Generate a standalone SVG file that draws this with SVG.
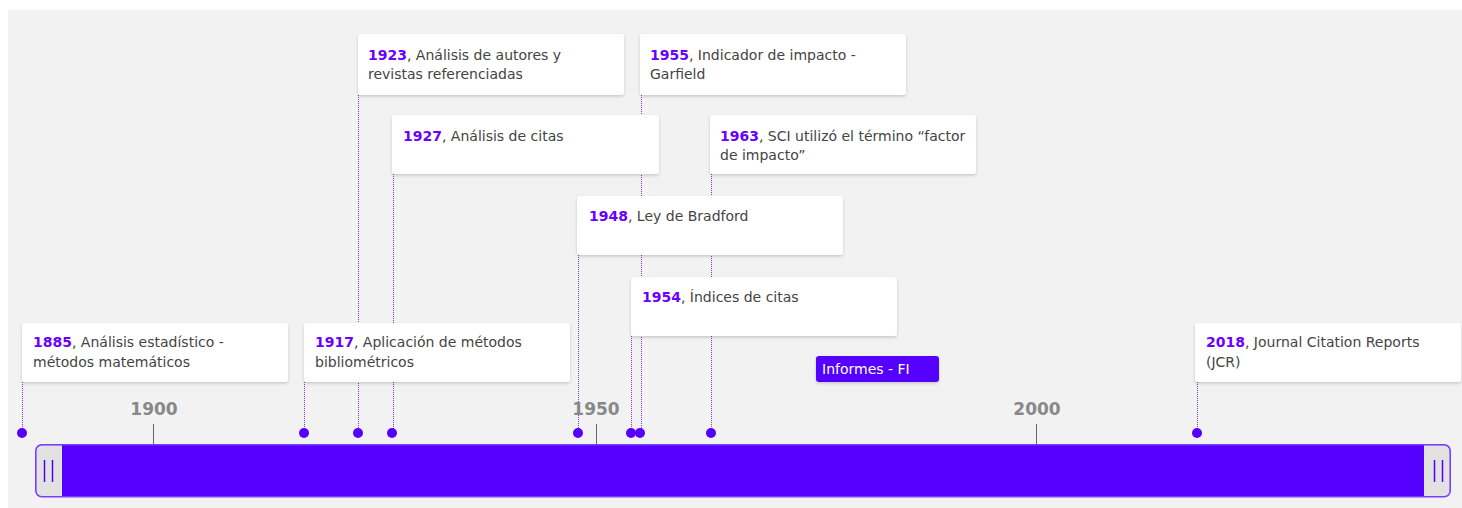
<svg xmlns="http://www.w3.org/2000/svg" width="1462" height="508" viewBox="0 0 1462 508">
<defs>
<filter id="sh" x="-10%" y="-20%" width="120%" height="150%">
<feDropShadow dx="0" dy="1.5" stdDeviation="1.5" flood-color="#000" flood-opacity="0.18"/>
</filter>
<style>
.card{fill:#fff;filter:url(#sh)}
.t{font-family:"DejaVu Sans",Verdana,sans-serif;font-size:14px;fill:#444}
.y{font-weight:bold;fill:#6a00ff}
.lead{stroke:#7a33ff;stroke-width:1;stroke-dasharray:1 1;fill:none}
.dot{fill:#5500ff}
.tick{stroke:#666;stroke-width:1}
.tl{font-family:"DejaVu Sans",Verdana,sans-serif;font-size:17px;font-weight:bold;fill:#888;text-anchor:middle}
.hl{stroke:#5500ff;stroke-width:1.5}
</style>
</defs>
<rect x="8" y="10" width="1454" height="498" fill="#f2f2f2"/>

<g id="connectors">
<line class="lead" x1="22.5" y1="382" x2="22.5" y2="433"/>
<line class="lead" x1="304.5" y1="382" x2="304.5" y2="433"/>
<line class="lead" x1="358.5" y1="95" x2="358.5" y2="433"/>
<line class="lead" x1="393.5" y1="174" x2="393.5" y2="433"/>
<line class="lead" x1="578.5" y1="255" x2="578.5" y2="433"/>
<line class="lead" x1="631.5" y1="336" x2="631.5" y2="433"/>
<line class="lead" x1="641.5" y1="95" x2="641.5" y2="433"/>
<line class="lead" x1="711.5" y1="174" x2="711.5" y2="433"/>
<line class="lead" x1="1197.5" y1="382" x2="1197.5" y2="433"/>
<circle class="dot" cx="22" cy="433" r="5"/>
<circle class="dot" cx="304" cy="433" r="5"/>
<circle class="dot" cx="358" cy="433" r="5"/>
<circle class="dot" cx="392" cy="433" r="5"/>
<circle class="dot" cx="578" cy="433" r="5"/>
<circle class="dot" cx="631" cy="433" r="5"/>
<circle class="dot" cx="640" cy="433" r="5"/>
<circle class="dot" cx="711" cy="433" r="5"/>
<circle class="dot" cx="1197" cy="433" r="5"/>
</g>

<g id="axis">
<line class="tick" x1="153.5" y1="424" x2="153.5" y2="444"/>
<line class="tick" x1="596.5" y1="424" x2="596.5" y2="444"/>
<line class="tick" x1="1036.5" y1="424" x2="1036.5" y2="444"/>
<text class="tl" x="154" y="415">1900</text>
<text class="tl" x="596" y="415">1950</text>
<text class="tl" x="1037" y="415">2000</text>
</g>

<g id="bar">
<rect x="35.75" y="444.75" width="1414.5" height="52" rx="6" fill="#5500ff" stroke="#7a3dff" stroke-width="1.5"/>
<path d="M36.5 451 a5.5 5.5 0 0 1 5.5 -5.5 H62 V496 H42 a5.5 5.5 0 0 1 -5.5 -5.5 Z" fill="#e2e2e2"/>
<path d="M1424 445.5 H1444 a5.5 5.5 0 0 1 5.5 5.5 V490.5 a5.5 5.5 0 0 1 -5.5 5.5 H1424 Z" fill="#e2e2e2"/>
<line class="hl" x1="44.5" y1="460" x2="44.5" y2="482"/>
<line class="hl" x1="52.5" y1="460" x2="52.5" y2="482"/>
<line class="hl" x1="1434.5" y1="460" x2="1434.5" y2="482"/>
<line class="hl" x1="1442.5" y1="460" x2="1442.5" y2="482"/>
</g>

<g id="n1885">
<rect class="card" x="22" y="323" width="266" height="59" rx="3"/>
<text class="t" x="33" y="347"><tspan class="y">1885</tspan>, Análisis estadístico -</text>
<text class="t" x="33" y="367">métodos matemáticos</text>
</g>
<g id="n1917">
<rect class="card" x="304" y="323" width="266" height="59" rx="3"/>
<text class="t" x="315" y="347"><tspan class="y">1917</tspan>, Aplicación de métodos</text>
<text class="t" x="315" y="367">bibliométricos</text>
</g>
<g id="n1923">
<rect class="card" x="358" y="34" width="266" height="61" rx="3"/>
<text class="t" x="368" y="60"><tspan class="y">1923</tspan>, Análisis de autores y</text>
<text class="t" x="368" y="79">revistas referenciadas</text>
</g>
<g id="n1927">
<rect class="card" x="392" y="115" width="267" height="59" rx="3"/>
<text class="t" x="403" y="141"><tspan class="y">1927</tspan>, Análisis de citas</text>
</g>
<g id="n1948">
<rect class="card" x="577" y="196" width="266" height="59" rx="3"/>
<text class="t" x="589" y="221"><tspan class="y">1948</tspan>, Ley de Bradford</text>
</g>
<g id="n1954">
<rect class="card" x="631" y="277" width="266" height="59" rx="3"/>
<text class="t" x="642" y="302"><tspan class="y">1954</tspan>, Índices de citas</text>
</g>
<g id="n1955">
<rect class="card" x="640" y="34" width="266" height="61" rx="3"/>
<text class="t" x="650" y="60"><tspan class="y">1955</tspan>, Indicador de impacto -</text>
<text class="t" x="650" y="79">Garfield</text>
</g>
<g id="n1963">
<rect class="card" x="710" y="115" width="266" height="59" rx="3"/>
<text class="t" x="720" y="141"><tspan class="y">1963</tspan>, SCI utilizó el término “factor</text>
<text class="t" x="720" y="160">de impacto”</text>
</g>
<g id="n2018">
<rect class="card" x="1195" y="323" width="266" height="59" rx="3"/>
<text class="t" x="1206" y="347"><tspan class="y">2018</tspan>, Journal Citation Reports</text>
<text class="t" x="1206" y="367">(JCR)</text>
</g>
<g id="informes">
<rect x="816" y="356" width="123" height="26" rx="3" fill="#5500ff" filter="url(#sh)"/>
<text class="t" x="822" y="374" style="fill:#fff">Informes - FI</text>
</g>
</svg>
